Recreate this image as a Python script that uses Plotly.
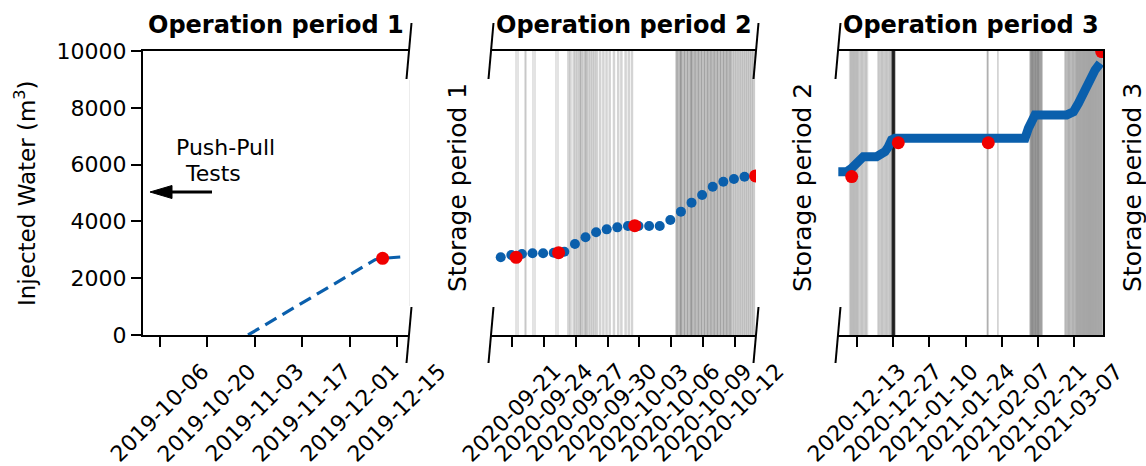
import plotly.graph_objects as go
import pandas as pd

# ---------------- data ----------------
# Operation period 1 (dashed line)
p1_dates = ["2019-11-01 00:00", "2019-12-08 12:00", "2019-12-10 17:00", "2019-12-16 10:00"]
p1_vals = [0, 2650, 2700, 2750]
p1_red_dates = ["2019-12-10 17:00"]
p1_red_vals = [2700]

# Operation period 2 (daily dots)
p2_dates = ["2020-09-19 22:00", "2020-09-20 22:00", "2020-09-21 22:00", "2020-09-22 22:00",
            "2020-09-23 22:00", "2020-09-24 22:00", "2020-09-25 22:00", "2020-09-26 22:00",
            "2020-09-27 22:00", "2020-09-28 22:00", "2020-09-29 22:00", "2020-09-30 22:00",
            "2020-10-01 22:00", "2020-10-02 22:00", "2020-10-03 22:00", "2020-10-04 22:00",
            "2020-10-05 22:00", "2020-10-06 22:00", "2020-10-07 22:00", "2020-10-08 22:00",
            "2020-10-09 22:00", "2020-10-10 22:00", "2020-10-11 22:00", "2020-10-12 22:00",
            "2020-10-13 22:00"]
p2_vals = [2735, 2817, 2852, 2876, 2876, 2899, 2934, 3204, 3439, 3615, 3720, 3791, 3838,
           3838, 3838, 3838, 4049, 4343, 4660, 4930, 5223, 5399, 5493, 5575, 5600]
p2_red_dates = ["2020-09-21 09:00", "2020-09-25 09:00", "2020-10-02 13:30", "2020-10-13 23:00"]
p2_red_vals = [2735, 2900, 3850, 5600]

# Operation period 3 (dense record)
p3_dates = ["2020-12-05 19:00", "2020-12-09 00:00", "2020-12-10 23:00", "2020-12-14 04:00",
            "2020-12-15 11:00", "2020-12-20 14:00", "2020-12-21 21:00", "2020-12-23 20:00",
            "2020-12-25 03:00", "2020-12-26 09:00", "2020-12-27 16:00", "2021-02-15 23:00",
            "2021-02-17 06:00", "2021-02-18 13:00", "2021-02-19 19:00", "2021-03-04 02:00",
            "2021-03-06 16:00", "2021-03-08 14:00", "2021-03-09 21:00", "2021-03-11 04:00",
            "2021-03-13 02:00", "2021-03-15 00:00", "2021-03-17 00:00"]
p3_vals = [5750, 5750, 5870, 6160, 6280, 6280, 6340, 6455, 6630, 6870, 6930, 6930,
           7280, 7630, 7750, 7750, 7860, 8160, 8390, 8740, 9040, 9330, 9570]
p3_red_dates = ["2020-12-10 23:00", "2020-12-28 23:00", "2021-02-01 18:00", "2021-03-17 14:00"]
p3_red_vals = [5580, 6770, 6770, 9980]

# Event markers (days after the base date of each panel)
p2_base = "2020-09-19 00:00"
p2_events_light = [2.36, 2.55, 3.21, 3.30, 3.96, 4.15, 6.13, 6.32]
p2_events_mid = [7.3, 7.5, 7.8, 8.0, 8.2, 8.4, 8.5, 8.7, 8.9, 9.0, 9.2, 9.4, 9.6, 9.8, 10.0,
                 10.3, 10.6, 10.9, 11.2, 11.6, 12.0, 12.3, 12.7, 13.0, 13.3]
p2_events_dark = [17.5, 17.6, 17.8, 17.9, 18.0, 18.2, 18.3, 18.5, 18.6, 18.8, 18.9, 19.0,
                  19.2, 19.3, 19.5, 19.6, 19.8, 19.9, 20.1, 20.2, 20.4, 20.5, 20.7, 20.8,
                  21.0, 21.1, 21.3, 21.4, 21.6, 21.7, 21.9, 22.0, 22.2, 22.3, 22.5, 22.6,
                  22.8, 23.0, 23.2, 23.4, 23.6, 23.8, 24.0, 24.2, 24.4, 24.6, 24.8]
p3_base = "2020-12-05 16:00"
p3_events_light = [57.7, 58.0, 61.8]
p3_events_mid = [4.6, 5.0, 5.4, 5.8, 6.2, 6.6, 7.0, 7.4, 7.8, 8.3, 8.8, 9.3, 9.8, 10.3, 10.8,
                 11.3, 15.5, 16.0, 16.5, 17.0, 17.5, 18.0, 18.5, 19.0, 19.5, 20.0, 20.4]
p3_events_dark = [74.3, 74.6, 75.0, 75.3, 75.6, 76.0, 76.3, 76.6, 77.0, 77.3, 77.6, 78.0,
                  78.4, 78.8]
p3_events_late = [87.8, 88.3, 88.8, 89.3, 89.8, 90.3, 90.8, 91.3, 91.8, 92.2,
                  92.6, 93.0, 93.4, 93.8, 94.2, 94.6, 95.0, 95.4, 95.8, 96.2, 96.6, 97.0,
                  97.4, 97.8, 98.2, 98.6, 99.0, 99.4, 99.8, 100.2, 100.6, 101.0, 101.4,
                  101.8, 102.2]
p3_events_black = [20.9, 21.1, 21.3, 21.5, 21.7, 21.9]

# Axis ranges and ticks
x1_range = ["2019-10-01 00:00", "2019-12-18 12:00"]
x2_range = ["2020-09-19 00:00", "2020-10-14 00:00"]
x3_range = ["2020-12-05 16:00", "2021-03-18 02:00"]
x1_ticks = ["2019-10-06", "2019-10-20", "2019-11-03", "2019-11-17", "2019-12-01", "2019-12-15"]
x2_ticks = ["2020-09-21", "2020-09-24", "2020-09-27", "2020-09-30", "2020-10-03",
            "2020-10-06", "2020-10-09", "2020-10-12"]
x3_ticks = ["2020-12-13", "2020-12-27", "2021-01-10", "2021-01-24", "2021-02-07",
            "2021-02-21", "2021-03-07"]
y_ticks = [0, 2000, 4000, 6000, 8000, 10000]
y_ticktext = ["0", "2000", "4000", "6000", "8000", "10000"]

titles = ["Operation period 1", "Operation period 2", "Operation period 3"]
storage_labels = ["Storage period 1", "Storage period 2", "Storage period 3"]
y_title = "Injected Water (m<sup>3</sup>)"

# ---------------- styling / layout ----------------
W, H = 1146, 466
BLUE = "#0a5fac"
RED = "#f00000"
FONT = "DejaVu Sans"

def px_x(p):
    return p / W

def px_y(p):
    return 1 - p / H

dom_x = [[px_x(143), px_x(409)], [px_x(491), px_x(756)], [px_x(838), px_x(1103)]]
dom_y = [px_y(335), px_y(51)]

fig = go.Figure()

# panel 1
fig.add_trace(go.Scatter(x=p1_dates, y=p1_vals, mode="lines",
                         line=dict(color=BLUE, width=3.2, dash="13px,7px"),
                         xaxis="x", yaxis="y", showlegend=False))
fig.add_trace(go.Scatter(x=p1_red_dates, y=p1_red_vals, mode="markers",
                         marker=dict(color=RED, size=13), xaxis="x", yaxis="y", showlegend=False))
# panel 2
fig.add_trace(go.Scatter(x=p2_dates, y=p2_vals, mode="markers",
                         marker=dict(color=BLUE, size=10), xaxis="x2", yaxis="y2", showlegend=False))
fig.add_trace(go.Scatter(x=p2_red_dates, y=p2_red_vals, mode="markers",
                         marker=dict(color=RED, size=13), xaxis="x2", yaxis="y2", showlegend=False))
# panel 3
fig.add_trace(go.Scatter(x=p3_dates, y=p3_vals, mode="lines",
                         line=dict(color=BLUE, width=9),
                         xaxis="x3", yaxis="y3", showlegend=False))
fig.add_trace(go.Scatter(x=p3_red_dates, y=p3_red_vals, mode="markers",
                         marker=dict(color=RED, size=13), xaxis="x3", yaxis="y3", showlegend=False))

shapes = []

def add_events(base, offsets, xref, yref, color, width):
    b = pd.Timestamp(base)
    for d in offsets:
        t = (b + pd.Timedelta(days=d)).strftime("%Y-%m-%d %H:%M:%S")
        shapes.append(dict(type="line", xref=xref, yref=yref + " domain", x0=t, x1=t,
                           y0=0, y1=1, line=dict(color=color, width=width), layer="below"))

add_events(p2_base, p2_events_light, "x2", "y2", "rgba(0,0,0,0.15)", 1.5)
add_events(p2_base, p2_events_mid, "x2", "y2", "rgba(0,0,0,0.17)", 2.5)
add_events(p2_base, p2_events_dark, "x2", "y2", "rgba(0,0,0,0.2)", 2.5)
add_events(p3_base, p3_events_light, "x3", "y3", "rgba(0,0,0,0.2)", 1.5)
add_events(p3_base, p3_events_mid, "x3", "y3", "rgba(0,0,0,0.15)", 2)
add_events(p3_base, p3_events_dark, "x3", "y3", "rgba(0,0,0,0.22)", 2)
add_events(p3_base, p3_events_late, "x3", "y3", "rgba(0,0,0,0.2)", 2)
add_events(p3_base, p3_events_black, "x3", "y3", "rgba(0,0,0,0.55)", 1.5)

# broken-axis marks
def brk(xp):
    for yc in (51, 335):
        shapes.append(dict(type="line", xref="paper", yref="paper",
                           x0=px_x(xp + 2.5), y0=px_y(yc - 28), x1=px_x(xp - 2.5), y1=px_y(yc + 28),
                           line=dict(color="black", width=2)))

brk(409)
brk(491)
brk(756)
brk(838)
# faint right edge of panel 1
shapes.append(dict(type="line", xref="paper", yref="paper", x0=px_x(409.5), x1=px_x(409.5),
                   y0=px_y(80), y1=px_y(306), line=dict(color="#ececec", width=1)))

# Push-Pull arrow (shaft + head)
shapes.append(dict(type="line", xref="paper", yref="paper", x0=px_x(212), x1=px_x(168),
                   y0=px_y(192), y1=px_y(192), line=dict(color="black", width=3)))
shapes.append(dict(type="path", xref="paper", yref="paper",
                   path="M {:.5f},{:.5f} L {:.5f},{:.5f} L {:.5f},{:.5f} Z".format(
                       px_x(150), px_y(192), px_x(172), px_y(185.5), px_x(172), px_y(198.5)),
                   fillcolor="black", line=dict(color="black", width=1)))

annotations = []
# titles
for i, t in enumerate(titles):
    cx = (dom_x[i][0] + dom_x[i][1]) / 2
    annotations.append(dict(text="<b>" + t + "</b>", x=cx, y=px_y(25), xref="paper", yref="paper",
                            showarrow=False, font=dict(size=24, family=FONT, color="black"),
                            xanchor="center", yanchor="middle"))
# storage period labels
for t, xp in zip(storage_labels, [458, 803, 1133]):
    annotations.append(dict(text=t, x=px_x(xp), y=px_y(188), xref="paper", yref="paper",
                            showarrow=False, textangle=-90,
                            font=dict(size=25, family=FONT, color="black"),
                            xanchor="center", yanchor="middle"))
# y title
annotations.append(dict(text=y_title, x=px_x(25), y=px_y(193), xref="paper", yref="paper",
                        showarrow=False, textangle=-90, font=dict(size=23, family=FONT, color="black"),
                        xanchor="center", yanchor="middle"))
# push-pull annotation
annotations.append(dict(text="Push-Pull", x=px_x(174), y=px_y(147), xref="paper", yref="paper",
                        showarrow=False, font=dict(size=22, family=FONT, color="black"),
                        xanchor="left", yanchor="middle"))
annotations.append(dict(text="Tests", x=px_x(183), y=px_y(173), xref="paper", yref="paper",
                        showarrow=False, font=dict(size=22, family=FONT, color="black"),
                        xanchor="left", yanchor="middle"))
# x tick labels (rotated, centred on tick)
for ticks, xr in [(x1_ticks, "x"), (x2_ticks, "x2"), (x3_ticks, "x3")]:
    for t in ticks:
        annotations.append(dict(text=t, x=t, y=px_y(356), xref=xr, yref="paper",
                                showarrow=False, textangle=-45,
                                font=dict(size=22, family=FONT, color="black"),
                                xanchor="center", yanchor="top"))

xcommon = dict(type="date", showgrid=False, zeroline=False, showline=True, mirror=True,
               linecolor="black", linewidth=2, ticks="outside", ticklen=10, tickwidth=1.6,
               tickcolor="black", showticklabels=False, fixedrange=True, automargin=False)
ycommon = dict(range=[0, 10000], showgrid=False, zeroline=False, fixedrange=True, automargin=False)

fig.update_layout(
    width=W, height=H,
    margin=dict(l=0, r=0, t=0, b=0, pad=0, autoexpand=False),
    paper_bgcolor="white", plot_bgcolor="white",
    font=dict(family=FONT, size=22, color="black"),
    xaxis=dict(domain=dom_x[0], range=x1_range, tickvals=x1_ticks, anchor="y", **xcommon),
    xaxis2=dict(domain=dom_x[1], range=x2_range, tickvals=x2_ticks, anchor="y2", **xcommon),
    xaxis3=dict(domain=dom_x[2], range=x3_range, tickvals=x3_ticks, anchor="y3", **xcommon),
    yaxis=dict(domain=dom_y, anchor="x", tickvals=y_ticks, ticktext=y_ticktext, ticks="outside",
               ticklen=10, tickwidth=1.6, tickcolor="black", showline=True, linecolor="black",
               linewidth=2, tickfont=dict(size=22, family=FONT), **ycommon),
    yaxis2=dict(domain=dom_y, anchor="x2", showticklabels=False, showline=False, ticks="", **ycommon),
    yaxis3=dict(domain=dom_y, anchor="x3", side="right", showticklabels=False, showline=True,
                linecolor="black", linewidth=2, ticks="", **ycommon),
    shapes=shapes,
    annotations=annotations,
)

fig.write_html("out.html")
